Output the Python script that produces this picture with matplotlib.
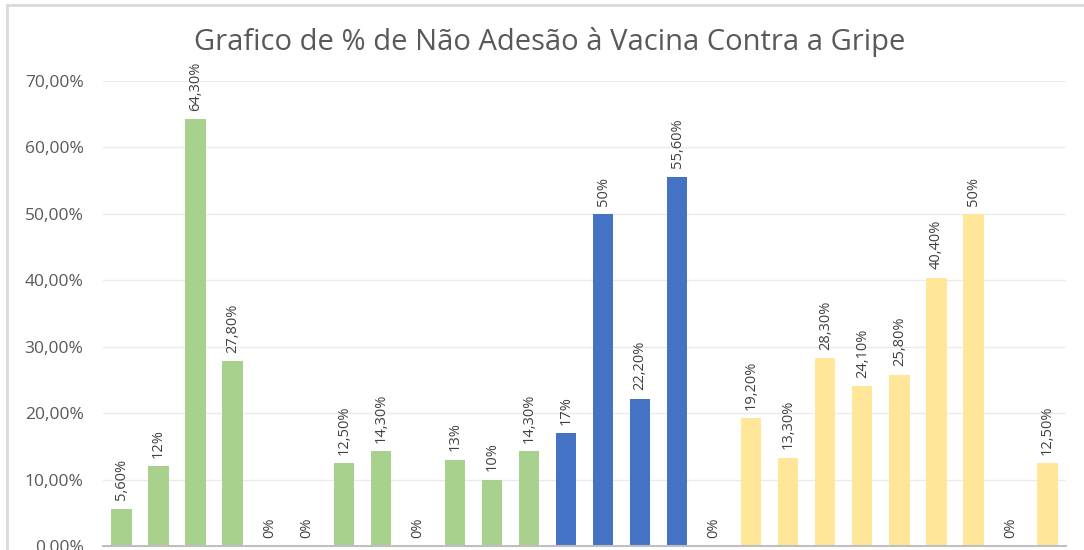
import matplotlib
matplotlib.use("Agg")
import matplotlib.pyplot as plt
from matplotlib.lines import Line2D
import numpy as np

values = [5.6, 12, 64.3, 27.8, 0, 0, 12.5, 14.3, 0, 13, 10, 14.3,
          17, 50, 22.2, 55.6, 0,
          19.2, 13.3, 28.3, 24.1, 25.8, 40.4, 50, 0, 12.5]
labels = ["5,60%", "12%", "64,30%", "27,80%", "0%", "0%", "12,50%", "14,30%", "0%", "13%", "10%", "14,30%",
          "17%", "50%", "22,20%", "55,60%", "0%",
          "19,20%", "13,30%", "28,30%", "24,10%", "25,80%", "40,40%", "50%", "0%", "12,50%"]
groups = ["g"] * 12 + ["b"] * 5 + ["y"] * 9
group_colors = {"g": "#A9D18E", "b": "#4472C4", "y": "#FFE699"}
yticks = [0, 10, 20, 30, 40, 50, 60, 70]
ytick_labels = ["0,00%", "10,00%", "20,00%", "30,00%", "40,00%", "50,00%", "60,00%", "70,00%"]
title = "Grafico de % de Não Adesão à Vacina Contra a Gripe"

plt.rcParams['font.family'] = ['Open Sans', 'DejaVu Sans']

fig = plt.figure(figsize=(10.84, 5.5), dpi=100)
ax = fig.add_axes([103/1084, 4/550, (1066-103)/1084, (546-81)/550])

x = np.arange(len(values))
colors = [group_colors[g] for g in groups]
ax.bar(x, values, width=0.55, color=colors, zorder=3)

for xi, v, lab in zip(x, values, labels):
    ax.annotate(lab, (xi, v), xytext=(0, 6), textcoords="offset points",
                rotation=90, ha="center", va="bottom", fontsize=10.5, color="#404040")

ax.set_xlim(-0.5, len(values) - 0.5)
ax.set_ylim(0, 70)
ax.set_yticks(yticks)
ax.set_yticklabels(ytick_labels, fontsize=12.5, color="#595959")
ax.set_xticks([])
ax.tick_params(axis="y", length=0, pad=14)
ax.grid(axis="y", color="#ebebeb", linewidth=1, zorder=0)
for s in ["top", "right", "left"]:
    ax.spines[s].set_visible(False)
ax.spines["bottom"].set_color("#bfbfbf")
ax.spines["bottom"].set_linewidth(1.5)
ax.spines["bottom"].set_zorder(4)

fig.text(550/1084, 1 - 42/550, title, ha="center", va="center", fontsize=21, color="#595959")

fig.add_artist(Line2D([7/1084, 1], [1 - 5/550, 1 - 5/550], color="#d9d9d9", linewidth=2, transform=fig.transFigure))
fig.add_artist(Line2D([7/1084, 7/1084], [0, 1 - 5/550], color="#d9d9d9", linewidth=2, transform=fig.transFigure))

fig.savefig("out.png", dpi=100)
